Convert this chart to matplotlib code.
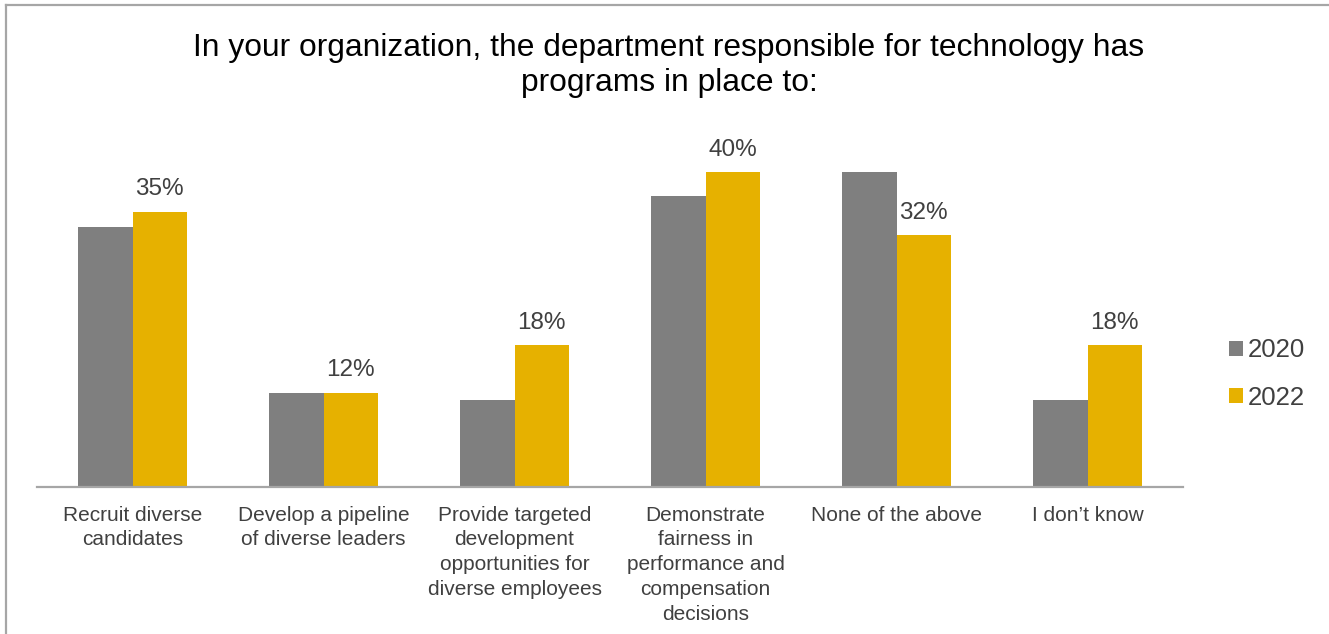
import matplotlib
matplotlib.use("Agg")
import matplotlib.pyplot as plt
from matplotlib.lines import Line2D
import numpy as np

plt.rcParams['font.family'] = ['Liberation Sans', 'DejaVu Sans']

categories = [
    "Recruit diverse\ncandidates",
    "Develop a pipeline\nof diverse leaders",
    "Provide targeted\ndevelopment\nopportunities for\ndiverse employees",
    "Demonstrate\nfairness in\nperformance and\ncompensation\ndecisions",
    "None of the above",
    "I don\u2019t know",
]
series_names = ["2020", "2022"]
values_2020 = [33, 12, 11, 37, 40, 11]
values_2022 = [35, 12, 18, 40, 32, 18]

GRAY = "#7F7F7F"
GOLD = "#E6B100"
TEXT = "#404040"

W, H = 1329, 634
fig = plt.figure(figsize=(W / 100, H / 100), dpi=100)

# figure frame: top and left rules only
fig.add_artist(Line2D([6 / W, 1], [1 - 5 / H, 1 - 5 / H], color="#A6A6A6", lw=1.6,
                      transform=fig.transFigure))
fig.add_artist(Line2D([6 / W, 6 / W], [0, 1 - 5 / H], color="#A6A6A6", lw=1.6,
                      transform=fig.transFigure))

ax_left, ax_right = 37 / W, 1183 / W
ax_bottom = 1 - 487 / H
ymax = 45
px_per_unit = 7.87
ax_top = 1 - (487 - ymax * px_per_unit) / H
ax = fig.add_axes([ax_left, ax_bottom, ax_right - ax_left, ax_top - ax_bottom])

x = np.arange(len(categories))
bw = 0.285
ax.bar(x - bw / 2, values_2020, width=bw, color=GRAY, label=series_names[0])
bars22 = ax.bar(x + bw / 2, values_2022, width=bw, color=GOLD, label=series_names[1])

for rect, v in zip(bars22, values_2022):
    ax.annotate(f"{v}%", (rect.get_x() + rect.get_width() / 2, v),
                xytext=(0, 8), textcoords="offset points", ha="center", va="bottom",
                fontsize=17.5, color=TEXT)

ax.set_xlim(-0.5, len(categories) - 0.5)
ax.set_ylim(0, ymax)
ax.set_yticks([])
ax.set_xticks(x)
ax.set_xticklabels(categories, fontsize=15, color=TEXT, va="top", linespacing=1.38)
ax.tick_params(axis="x", length=0, pad=13.5)
for s in ["top", "right", "left"]:
    ax.spines[s].set_visible(False)
ax.spines["bottom"].set_color("#A6A6A6")
ax.spines["bottom"].set_linewidth(1.6)

fig.text(669 / W, 1 - 65.5 / H,
         "In your organization, the department responsible for technology has\nprograms in place to:",
         ha="center", va="center", fontsize=22.9, color="black", linespacing=1.23)

leg = fig.legend(loc="center left", bbox_to_anchor=(1219 / W, 1 - 374 / H), frameon=False,
                 fontsize=18.5, handlelength=0.55, handleheight=0.55, handletextpad=0.15,
                 labelspacing=0.9, labelcolor=TEXT, borderaxespad=0)

fig.savefig("out.png", dpi=100)
